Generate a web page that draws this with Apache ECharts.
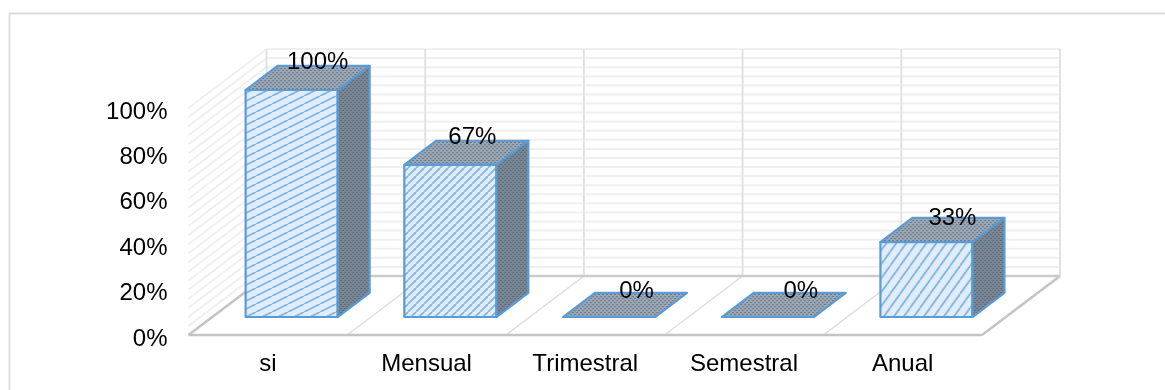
<!DOCTYPE html>
<html>
<head>
<meta charset="utf-8">
<style>html,body{margin:0;padding:0;background:#fff}#chart{width:1165px;height:390px}</style>
<script src="https://cdn.jsdelivr.net/npm/echarts@6/dist/echarts.min.js"></script>
</head>
<body>
<div id="chart"></div>
<script>
// Frequency categories and their shares, in percent
const categories = ['si', 'Mensual', 'Trimestral', 'Semestral', 'Anual'];
const shares = [100, 67, 0, 0, 33];
const valueTicks = [0, 20, 40, 60, 80, 100];
const wallLevels = [0, 4, 8, 12, 16, 20, 24, 28, 32, 36, 40, 44, 48, 52, 56, 60, 64, 68, 72, 76, 80, 84, 88, 92, 96, 100];
const boundaries = [0, 1, 2, 3, 4, 5];

// Oblique projection: one unit of depth moves this far on screen
const DEPTH = [78, -59];
const BAR_NEAR = 0.305, BAR_FAR = 0.715, BAR_SHARE = 0.58;
const EDGE = '#5b9bd5';
const LABEL_FONT = '24px "Liberation Sans", Arial, sans-serif';
// Per-bar offset of the value label from the middle of the bar's top face
const labelShift = [[10, -16], [6, -15], [11.5, -14], [17, -14], [10, -12]];

function tile(w, h, paint) {
  const c = document.createElement('canvas');
  c.width = w; c.height = h;
  paint(c.getContext('2d'), w, h);
  return { image: c, repeat: 'repeat' };
}
function hatch(w, h) {
  return tile(w, h, (g) => {
    g.fillStyle = '#e0ecf8'; g.fillRect(0, 0, w, h);
    g.strokeStyle = '#86b8e6'; g.lineWidth = 1.9;
    for (const s of [-w, 0, w]) {
      g.beginPath(); g.moveTo(s, h); g.lineTo(s + w, 0); g.stroke();
    }
  });
}
function mesh(base, dot) {
  return tile(4, 4, (g) => {
    g.fillStyle = base; g.fillRect(0, 0, 4, 4);
    g.fillStyle = dot;
    g.fillRect(0, 0, 2, 1); g.fillRect(2, 2, 2, 1);
  });
}
const frontFills = [hatch(16, 8), hatch(8, 8), hatch(8, 8), hatch(8, 8), hatch(10, 14)];
const topFill = mesh('#9aa5b0', '#6b8098');
const sideFill = mesh('#7a858f', '#57708a');

function projector(api) {
  const band = api.size([1, 0])[0];
  const x0 = api.coord([0, 0])[0] - band / 2;
  return (b, v, d) => [x0 + b * band + d * DEPTH[0], api.coord([0, v])[1] + d * DEPTH[1]];
}
function segment(a, b, color, width) {
  return {
    type: 'line',
    shape: { x1: a[0], y1: a[1], x2: b[0], y2: b[1] },
    style: { stroke: color, lineWidth: width }
  };
}
function face(points, fill) {
  return {
    type: 'polygon',
    shape: { points },
    style: { fill, stroke: EDGE, lineWidth: 2.2, lineJoin: 'round' }
  };
}

function renderWallLevel(params, api) {
  const p = projector(api), v = api.value(1);
  return {
    type: 'group',
    children: [
      segment(p(0, v, 0), p(0, v, 1), '#f0f0f0', 2),
      segment(p(0, v, 1), p(5, v, 1), '#f0f0f0', 2)
    ]
  };
}
function renderBoundary(params, api) {
  const p = projector(api), b = api.value(1);
  const children = [segment(p(b, 0, 1), p(b, 100, 1), '#e2e2e2', 2)];
  const outer = b === 0 || b === boundaries.length - 1;
  children.push(segment(p(b, 0, 0), p(b, 0, 1), outer ? '#c4c4c4' : '#dddddd', outer ? 2.5 : 1.5));
  return { type: 'group', children };
}
function renderFloorEdges(params, api) {
  const p = projector(api);
  return {
    type: 'group',
    children: [
      segment(p(0, 0, 1), p(5, 0, 1), '#cccccc', 2.5),
      segment(p(0, 0, 0), p(5, 0, 0), '#c4c4c4', 2.5)
    ]
  };
}
function renderBar(params, api) {
  const i = api.value(0), v = api.value(1);
  const p = projector(api);
  const l = i + (1 - BAR_SHARE) / 2, r = i + (1 + BAR_SHARE) / 2;
  const top = [p(l, v, BAR_NEAR), p(r, v, BAR_NEAR), p(r, v, BAR_FAR), p(l, v, BAR_FAR)];
  const children = [face(top, topFill)];
  if (v > 0) {
    children.push(face([p(l, 0, BAR_NEAR), p(r, 0, BAR_NEAR), top[1], top[0]], frontFills[i]));
    children.push(face([p(r, 0, BAR_NEAR), p(r, 0, BAR_FAR), top[2], top[1]], sideFill));
  }
  const mid = p(i + 0.5, v, (BAR_NEAR + BAR_FAR) / 2);
  children.push({
    type: 'text',
    style: {
      text: v + '%',
      x: mid[0] + labelShift[i][0],
      y: mid[1] + labelShift[i][1],
      align: 'center',
      verticalAlign: 'middle',
      font: LABEL_FONT,
      fill: '#000'
    }
  });
  return { type: 'group', children };
}

const chart = echarts.init(document.getElementById('chart'), null, { renderer: 'canvas' });
chart.setOption({
  animation: false,
  backgroundColor: '#fff',
  graphic: [
    { type: 'line', silent: true, shape: { x1: 9, y1: 13.5, x2: 1165, y2: 13.5 }, style: { stroke: '#dcdcdc', lineWidth: 2 } },
    { type: 'line', silent: true, shape: { x1: 9.5, y1: 13, x2: 9.5, y2: 390 }, style: { stroke: '#e0e0e0', lineWidth: 2 } }
  ],
  grid: { left: 188.5, width: 793.5, top: 108, height: 227 },
  xAxis: {
    type: 'category',
    data: categories,
    axisLine: { show: false },
    axisTick: { show: false },
    axisLabel: { margin: 17, color: '#000', fontSize: 24, fontFamily: '"Liberation Sans", Arial, sans-serif', interval: 0 }
  },
  yAxis: {
    type: 'value',
    min: valueTicks[0],
    max: valueTicks[valueTicks.length - 1],
    interval: valueTicks[1] - valueTicks[0],
    splitLine: { show: false },
    axisLine: { show: false },
    axisTick: { show: false },
    axisLabel: {
      margin: 21, color: '#000', fontSize: 24, fontFamily: '"Liberation Sans", Arial, sans-serif',
      verticalAlign: 'top',
      lineHeight: 8,
      formatter: '{value}%'
    }
  },
  series: [
    { type: 'custom', z: 1, silent: true, data: wallLevels.map((v) => [0, v]), renderItem: renderWallLevel },
    { type: 'custom', z: 2, silent: true, data: boundaries.map((b) => [0, b]), encode: { x: 0 }, renderItem: renderBoundary },
    { type: 'custom', z: 3, silent: true, data: [[0, 0]], renderItem: renderFloorEdges },
    { type: 'custom', z: 4, silent: true, data: shares.map((v, i) => [i, v]), renderItem: renderBar }
  ]
});
</script>
</body>
</html>
